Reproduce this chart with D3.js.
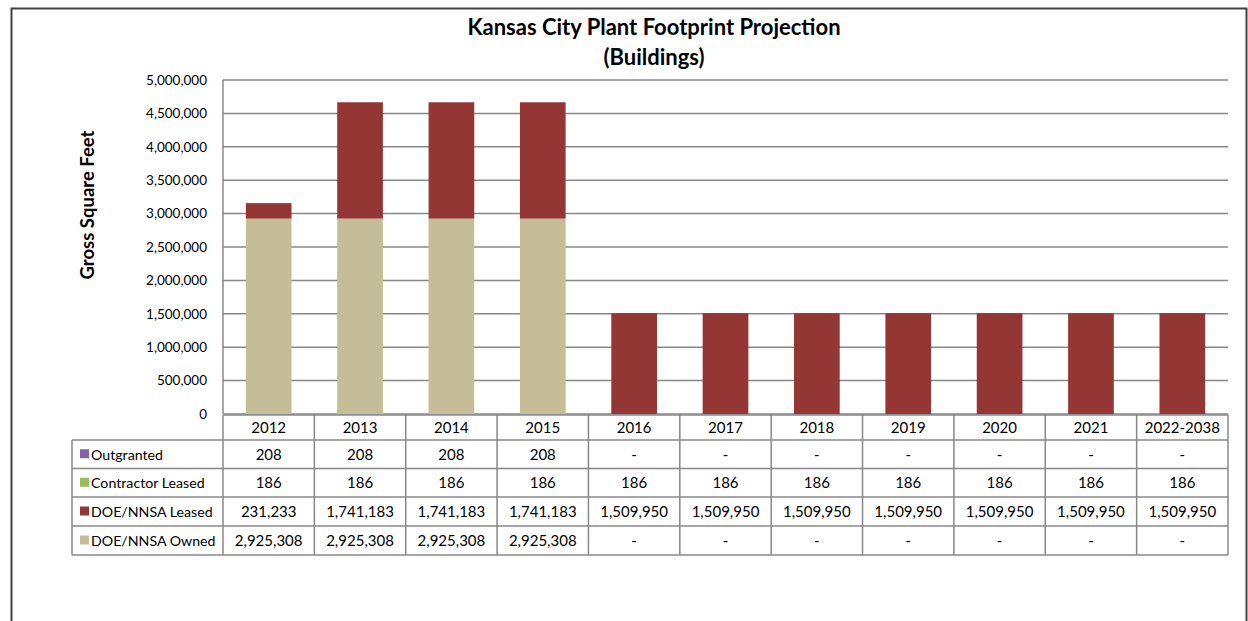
<!DOCTYPE html>
<html><head><meta charset="utf-8">
<script src="https://cdn.jsdelivr.net/npm/d3@7"></script>
<style>body{margin:0;background:#fff}svg{display:block;font-family:Lato,"Open Sans",sans-serif}</style>
</head><body><svg id="c" width="1248" height="621"></svg>
<script>
const categories = ["2012","2013","2014","2015","2016","2017","2018","2019","2020","2021","2022-2038"];
const owned = [2925308,2925308,2925308,2925308,0,0,0,0,0,0,0];
const leased = [231233,1741183,1741183,1741183,1509950,1509950,1509950,1509950,1509950,1509950,1509950];
const contractor = [186,186,186,186,186,186,186,186,186,186,186];
const outgranted = [208,208,208,208,0,0,0,0,0,0,0];
const yTicks = [0,500000,1000000,1500000,2000000,2500000,3000000,3500000,4000000,4500000,5000000];
const seriesNames = ["DOE/NNSA Owned","DOE/NNSA Leased","Contractor Leased","Outgranted"];
const seriesColors = ["#C4BD97","#943634","#9BBB59","#8064A2"];
const tableRows = ["Outgranted","Contractor Leased","DOE/NNSA Leased","DOE/NNSA Owned"];

const svg = d3.select("#c");
const L=223, R=1228, T=80, B=414;
const x = d3.scaleBand().domain(categories).range([L,R]).paddingInner(0).paddingOuter(0);
const y = d3.scaleLinear().domain([0,5000000]).range([B,T]);

// outer frame
svg.append("path").attr("d","M11.5,621 V8.5 H1246.5 V621").attr("fill","none").attr("stroke","#404040").attr("stroke-width",2);

// title
svg.append("text").attr("x",654).attr("y",35).attr("text-anchor","middle").attr("font-weight","bold").attr("font-size",22).text("Kansas City Plant Footprint Projection");
svg.append("text").attr("x",654).attr("y",65).attr("text-anchor","middle").attr("font-weight","bold").attr("font-size",22).text("(Buildings)");

// y axis title
svg.append("text").attr("transform","translate(94,205) rotate(-90)").attr("text-anchor","middle").attr("font-weight","bold").attr("font-size",18.5).text("Gross Square Feet");

// gridlines
svg.append("g").selectAll("line").data(yTicks).join("line")
  .attr("x1",L).attr("x2",R).attr("y1",d=>y(d)).attr("y2",d=>y(d))
  .attr("stroke","#888").attr("stroke-width",1.5);
svg.append("line").attr("x1",L).attr("x2",L).attr("y1",T).attr("y2",B).attr("stroke","#888").attr("stroke-width",1.5);

// y tick labels via axis
const ya = svg.append("g").attr("transform",`translate(${L},0)`).call(d3.axisLeft(y).tickValues(yTicks).tickFormat(d3.format(",")).tickSize(0).tickPadding(16));
ya.select(".domain").remove();
ya.selectAll("text").attr("font-size",13.5).attr("font-family","Lato,'Open Sans',sans-serif").attr("fill","#000");

// stacked bars
const data = categories.map((c,i)=>({cat:c,owned:owned[i],leased:leased[i],contractor:contractor[i],outgranted:outgranted[i]}));
const stack = d3.stack().keys(["owned","leased","contractor","outgranted"])(data);
const bw = x.bandwidth()*0.5;
svg.append("g").selectAll("g").data(stack).join("g").attr("fill",(d,i)=>seriesColors[i])
  .selectAll("rect").data(d=>d).join("rect")
  .attr("x",d=>x(d.data.cat)+x.bandwidth()/2-bw/2).attr("width",bw)
  .attr("y",d=>y(d[1])).attr("height",d=>Math.max(0,y(d[0])-y(d[1])));

// data table
const rowY = [415,440,468.5,497,526,555];
const tL = 72;
const tg = svg.append("g");
const lineC = "#888";
tg.append("line").attr("x1",L).attr("x2",R).attr("y1",rowY[0]).attr("y2",rowY[0]).attr("stroke",lineC).attr("stroke-width",1.5);
for(let r=1;r<rowY.length;r++){
  tg.append("line").attr("x1",tL).attr("x2",R).attr("y1",rowY[r]).attr("y2",rowY[r]).attr("stroke",lineC).attr("stroke-width",1.5);
}
tg.append("line").attr("x1",tL).attr("x2",tL).attr("y1",rowY[1]).attr("y2",rowY[5]).attr("stroke",lineC).attr("stroke-width",1.5);
categories.forEach(c=>{
  tg.append("line").attr("x1",x(c)).attr("x2",x(c)).attr("y1",rowY[0]).attr("y2",rowY[5]).attr("stroke",lineC).attr("stroke-width",1.5);
});
tg.append("line").attr("x1",R).attr("x2",R).attr("y1",rowY[0]).attr("y2",rowY[5]).attr("stroke",lineC).attr("stroke-width",1.5);

tg.selectAll("text.h").data(categories).join("text").attr("class","h")
  .attr("x",d=>x(d)+x.bandwidth()/2).attr("y",(rowY[0]+rowY[1])/2+5.5).attr("text-anchor","middle").attr("font-size",15).text(d=>d);

const fmt = d3.format(",");
const rowVals = [outgranted,contractor,leased,owned];
const rowColor = [seriesColors[3],seriesColors[2],seriesColors[1],seriesColors[0]];
tableRows.forEach((name,r)=>{
  const cy = (rowY[r+1]+rowY[r+2])/2;
  tg.append("rect").attr("x",80).attr("y",cy-5).attr("width",9).attr("height",9).attr("fill",rowColor[r]);
  tg.append("text").attr("x",91).attr("y",cy+5.5).attr("font-size",14.2).text(name);
  categories.forEach((c,i)=>{
    const v = rowVals[r][i];
    tg.append("text").attr("x",x(c)+x.bandwidth()/2).attr("y",cy+5.5).attr("text-anchor","middle").attr("font-size",15).text(v===0?"-":fmt(v));
  });
});
</script></body></html>
